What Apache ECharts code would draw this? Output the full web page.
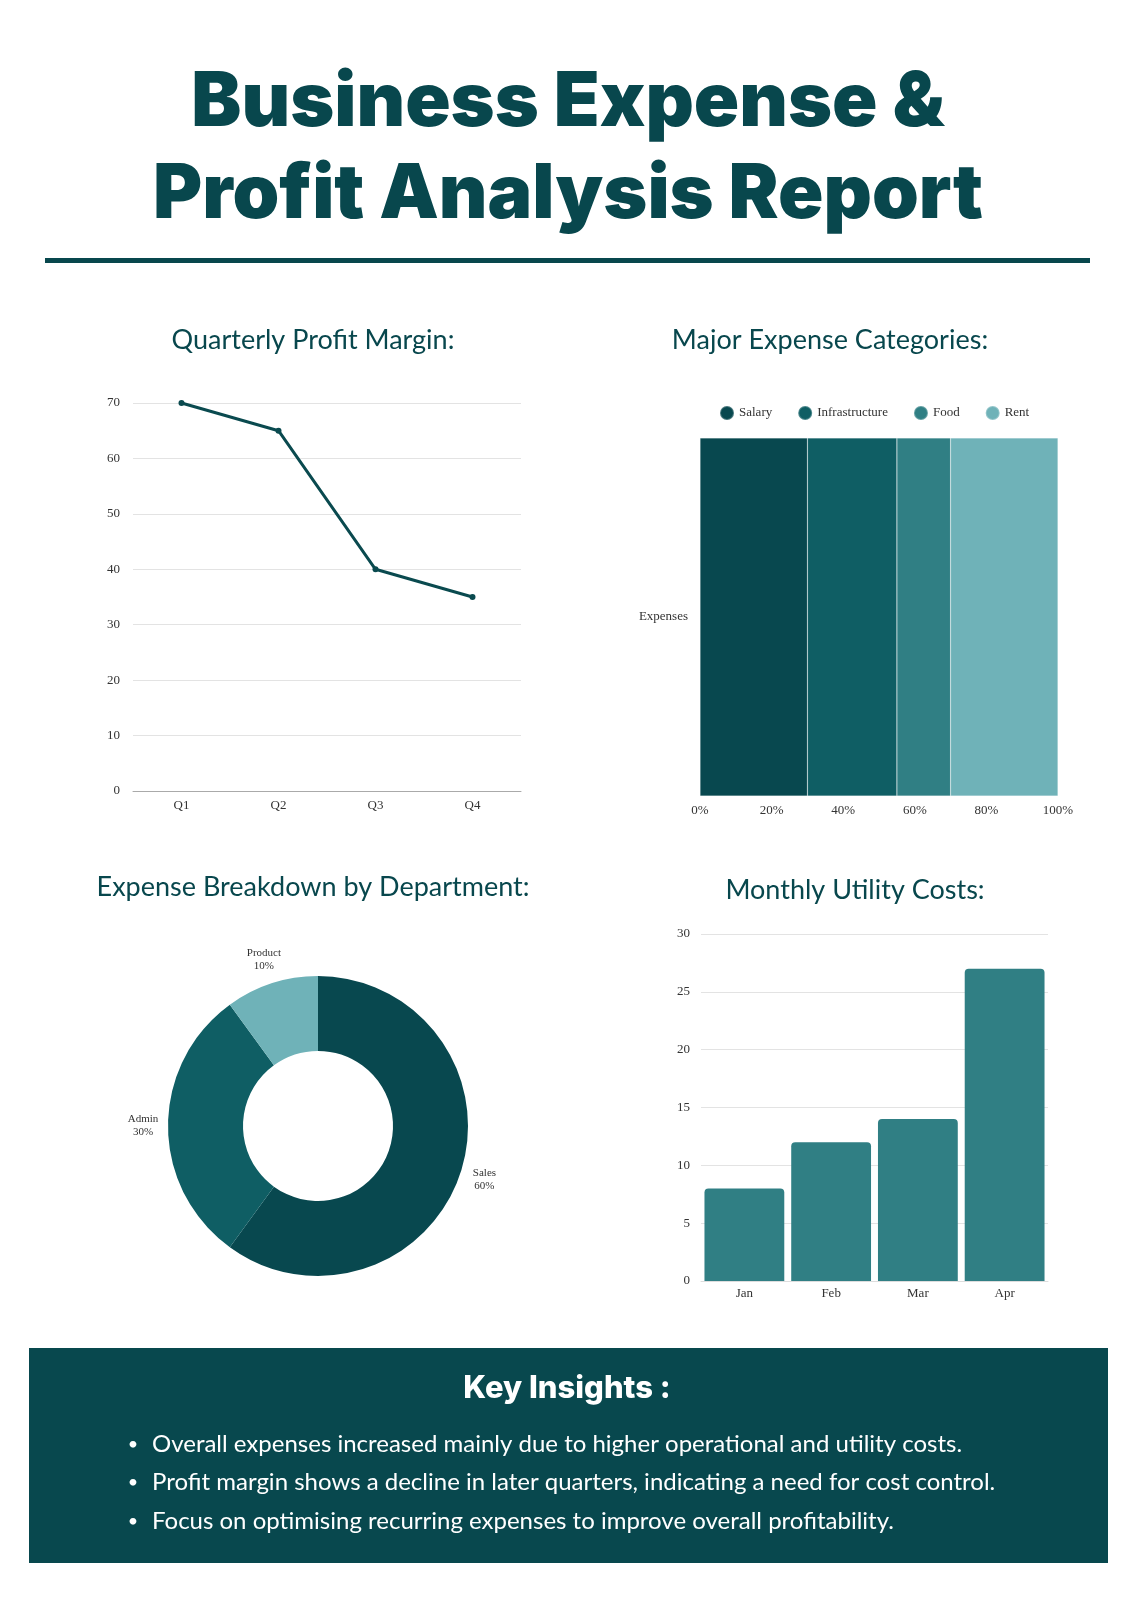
<!DOCTYPE html>
<html>
<head>
<meta charset="utf-8">
<script src="https://cdn.jsdelivr.net/npm/echarts@6/dist/echarts.min.js"></script>
<style>
  html, body { margin: 0; padding: 0; background: #ffffff; }
  #chart { width: 1131px; height: 1600px; }
</style>
</head>
<body>
<div id="chart"></div>
<script>
// ---- Data ----
const quarters = ['Q1', 'Q2', 'Q3', 'Q4'];
const profitMargin = [70, 65, 40, 35];

const expenseCategories = ['Salary', 'Infrastructure', 'Food', 'Rent'];
const expenseShares = [30, 25, 15, 30];
const expenseRowLabel = ['Expenses'];

const departments = ['Sales', 'Admin', 'Product'];
const departmentShares = [60, 30, 10];

const months = ['Jan', 'Feb', 'Mar', 'Apr'];
const utilityCosts = [8, 12, 14, 27];

const titleLines = ['Business Expense &', 'Profit Analysis Report'];
const chartTitles = ['Quarterly Profit Margin:', 'Major Expense Categories:', 'Expense Breakdown by Department:', 'Monthly Utility Costs:'];
const insightsTitle = 'Key Insights :';
const insights = [
  'Overall expenses increased mainly due to higher operational and utility costs.',
  'Profit margin shows a decline in later quarters, indicating a need for cost control.',
  'Focus on optimising recurring expenses to improve overall profitability.'
];

// ---- Styles ----
const DARK = '#08474d';
const expenseColors = ['#08484f', '#0f5e64', '#307f84', '#6fb2b8'];
const deptColors = ['#08484f', '#0f5e64', '#6fb2b8'];
const axisFont = { fontFamily: 'Liberation Serif', fontSize: 13, color: '#333' };
const titleFont = 'Lato';

const chart = echarts.init(document.getElementById('chart'), null, { renderer: 'canvas' });

const graphics = [];
// main title
graphics.push({ type: 'text', x: 568, y: 103, style: { x: 0, y: 0, text: titleLines[0], textAlign: 'center', textVerticalAlign: 'middle', fill: DARK, font: '900 75px Inter' } });
graphics.push({ type: 'text', x: 568, y: 195, style: { x: 0, y: 0, text: titleLines[1], textAlign: 'center', textVerticalAlign: 'middle', fill: DARK, font: '900 75px Inter' } });
// rule
graphics.push({ type: 'rect', shape: { x: 45, y: 258, width: 1045, height: 5 }, style: { fill: DARK } });
// chart titles
const ctPos = [[313, 340], [830, 340], [313, 887], [855, 890]];
chartTitles.forEach((t, i) => {
  graphics.push({ type: 'text', style: { x: ctPos[i][0], y: ctPos[i][1], text: t, textAlign: 'center', textVerticalAlign: 'middle', fill: DARK, font: '400 27px ' + titleFont } });
});
// insights box
graphics.push({ type: 'rect', shape: { x: 29, y: 1348, width: 1079, height: 215 }, style: { fill: '#08484e' } });
graphics.push({ type: 'text', style: { x: 567, y: 1389, text: insightsTitle, textAlign: 'center', textVerticalAlign: 'middle', fill: '#ffffff', font: '800 31px Inter' } });
const insY = [1444, 1482, 1521];
insights.forEach((t, i) => {
  graphics.push({ type: 'text', style: { x: 133, y: insY[i], text: '•', textAlign: 'center', textVerticalAlign: 'middle', fill: '#ffffff', font: '400 18px Lato' } });
  graphics.push({ type: 'text', style: { x: 152, y: insY[i], text: t, textAlign: 'left', textVerticalAlign: 'middle', fill: '#ffffff', font: '400 24px Lato' } });
});

const option = {
  backgroundColor: '#ffffff',
  animation: false,
  color: expenseColors,
  legend: {
    data: expenseCategories,
    left: 714, top: 400,
    icon: 'circle', itemWidth: 14, itemHeight: 14, itemGap: 25,
    textStyle: { fontFamily: 'Liberation Serif', fontSize: 13, color: '#333' }
  },
  grid: [
    { left: 133, top: 403, width: 388, height: 388 },
    { left: 700, top: 438, width: 358, height: 358 },
    { left: 701, top: 934, width: 347, height: 347 }
  ],
  xAxis: [
    { gridIndex: 0, type: 'category', data: quarters, boundaryGap: true,
      axisLine: { lineStyle: { color: '#aaaaaa' } }, axisTick: { show: false },
      axisLabel: Object.assign({ margin: 8 }, axisFont) },
    { gridIndex: 1, type: 'value', min: 0, max: 100, interval: 20,
      axisLine: { show: false }, axisTick: { show: false }, splitLine: { show: false },
      axisLabel: Object.assign({ margin: 8, formatter: '{value}%' }, axisFont) },
    { gridIndex: 2, type: 'category', data: months,
      axisLine: { lineStyle: { color: '#dddddd' } }, axisTick: { show: false },
      axisLabel: Object.assign({ margin: 6 }, axisFont) }
  ],
  yAxis: [
    { gridIndex: 0, type: 'value', min: 0, max: 70, interval: 10,
      axisLine: { show: false }, axisTick: { show: false },
      splitLine: { lineStyle: { color: '#e3e3e3' } },
      axisLabel: Object.assign({ margin: 13 }, axisFont) },
    { gridIndex: 1, type: 'category', data: expenseRowLabel,
      axisLine: { show: false }, axisTick: { show: false },
      axisLabel: Object.assign({ margin: 12 }, axisFont) },
    { gridIndex: 2, type: 'value', min: 0, max: 30, interval: 5,
      axisLine: { show: false }, axisTick: { show: false },
      splitLine: { lineStyle: { color: '#e3e3e3' } },
      axisLabel: Object.assign({ margin: 11 }, axisFont) }
  ],
  series: [
    { type: 'line', xAxisIndex: 0, yAxisIndex: 0, data: profitMargin,
      symbol: 'circle', symbolSize: 6,
      lineStyle: { color: '#0a4a4f', width: 3 }, itemStyle: { color: '#0a4a4f' } }
  ].concat(expenseCategories.map((name, i) => ({
      type: 'bar', name: name, xAxisIndex: 1, yAxisIndex: 1, stack: 'exp',
      data: [expenseShares[i]], barWidth: '100%',
      itemStyle: { color: expenseColors[i], borderColor: 'rgba(255,255,255,0.25)', borderWidth: 0.6 }
  }))).concat([
    { type: 'bar', xAxisIndex: 2, yAxisIndex: 2, data: utilityCosts, barCategoryGap: '8%',
      itemStyle: { color: '#307f84', borderRadius: [4, 4, 0, 0] } },
    { type: 'pie', center: [318, 1126], radius: [75, 150], startAngle: 90, clockwise: true,
      silent: true, label: { show: false }, labelLine: { show: false },
      data: departments.map((d, i) => ({ name: d, value: departmentShares[i], itemStyle: { color: deptColors[i] } })) },
    { type: 'pie', center: [318, 1126], radius: [150, 194], startAngle: 90, clockwise: true,
      silent: true, labelLine: { show: false },
      itemStyle: { color: 'rgba(0,0,0,0)' },
      label: { show: true, position: 'inside', formatter: '{b}\n{d}%', fontFamily: 'Liberation Serif', fontSize: 11, lineHeight: 13, color: '#333', align: 'center' },
      data: departments.map((d, i) => ({ name: d, value: departmentShares[i] })) }
  ]),
  graphic: graphics
};
chart.setOption(option);
</script>
</body>
</html>
